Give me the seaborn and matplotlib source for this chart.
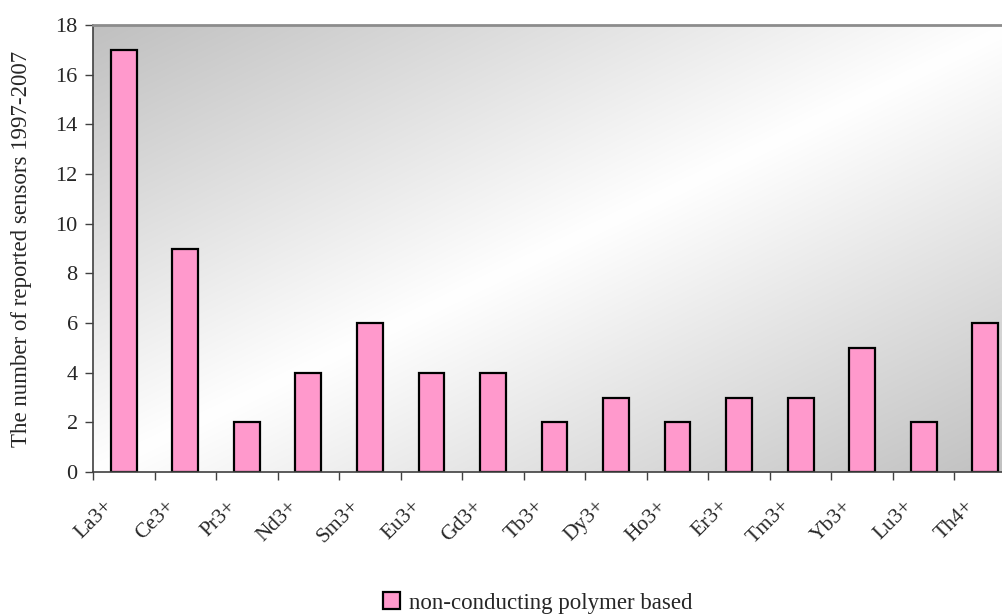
import matplotlib
matplotlib.use('Agg')
import matplotlib.pyplot as plt
import matplotlib.transforms as mtransforms
import numpy as np
import pandas as pd
import seaborn as sns

# data
ions = ['La3+', 'Ce3+', 'Pr3+', 'Nd3+', 'Sm3+', 'Eu3+', 'Gd3+', 'Tb3+',
        'Dy3+', 'Ho3+', 'Er3+', 'Tm3+', 'Yb3+', 'Lu3+', 'Th4+']
sensors = [17, 9, 2, 4, 6, 4, 4, 2, 3, 2, 3, 3, 5, 2, 6]
series_name = 'non-conducting polymer based'

df = pd.DataFrame({'ion': ions, 'count': sensors})

sns.set_style('white')
plt.rcParams['font.family'] = ['Liberation Serif', 'DejaVu Serif']

fig = plt.figure(figsize=(10.02, 6.15), dpi=100)
# plot area runs a little past the right edge, as in the reference
ax = fig.add_axes([93 / 1002, 1 - 472 / 615, 923 / 1002, 447 / 615])

# diagonal grey-white-grey background (grey top-left and bottom-right)
n = 300
u, v = np.meshgrid(np.linspace(0, 1, n), np.linspace(0, 1, n))
t = (u + v) / 2
grey = 192 / 255
shade = grey + (1 - grey) * (1 - np.abs(2 * t - 1))
ax.imshow(np.dstack([shade] * 3), extent=[0, 1, 0, 1], transform=ax.transAxes,
          aspect='auto', zorder=0, interpolation='bilinear')

sns.barplot(data=df, x='ion', y='count', color='#FF99CC', edgecolor='black',
            linewidth=1.6, width=0.42, saturation=1, ax=ax, zorder=2,
            label=series_name)

ax.set_xlim(-0.5, len(ions) - 0.5)
ax.set_ylim(0, 18)
ax.set_yticks(range(0, 19, 2))
ax.tick_params(axis='y', direction='out', length=6, width=1, color='#404040',
               left=True, labelsize=16, pad=5)

# category ticks sit between the bars
ax.set_xticks(np.arange(len(ions)))
ax.set_xticks(np.arange(len(ions) + 1) - 0.5, minor=True)
ax.tick_params(axis='x', which='major', length=0, labelsize=15.5, pad=18)
ax.tick_params(axis='x', which='minor', direction='out', length=6, width=1,
               color='#404040', bottom=True)
shift = mtransforms.ScaledTranslation(-20 / 100, 0, fig.dpi_scale_trans)
for lab in ax.get_xticklabels():
    lab.set_rotation(45)
    lab.set_ha('right')
    lab.set_va('top')
    lab.set_rotation_mode('anchor')
    lab.set_transform(lab.get_transform() + shift)

ax.set_xlabel('')
ax.set_ylabel('The number of reported sensors 1997-2007', fontsize=16.5,
              labelpad=17)

for side in ['left', 'bottom']:
    ax.spines[side].set_color('#404040')
    ax.spines[side].set_linewidth(1.2)
ax.spines['top'].set_color('#8C8C8C')
ax.spines['top'].set_linewidth(2)
ax.spines['right'].set_visible(False)

leg = fig.legend(*ax.get_legend_handles_labels(), loc='center',
                 bbox_to_anchor=(538 / 1002, 1 - 603 / 615), frameon=False,
                 fontsize=16.5, handlelength=0.75, handleheight=0.75,
                 handletextpad=0.4)
if ax.get_legend() is not None:
    ax.get_legend().remove()

fig.savefig('out.png', dpi=100)
